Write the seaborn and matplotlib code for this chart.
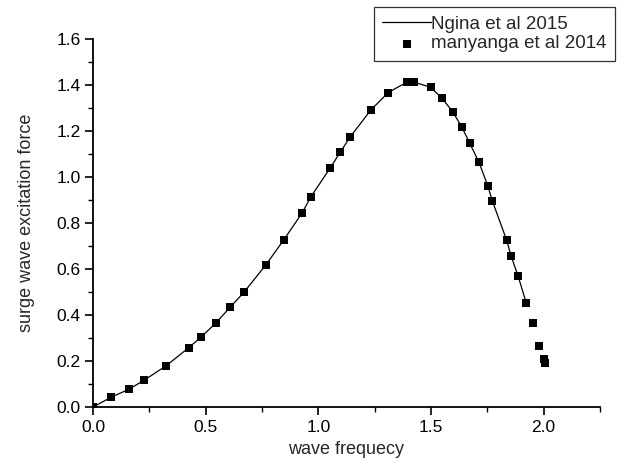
import matplotlib
matplotlib.use("Agg")
import matplotlib.pyplot as plt
import seaborn as sns
import pandas as pd
from matplotlib.ticker import MultipleLocator

# manyanga et al 2014 (markers)
freq_pts = [0.0, 0.08, 0.161, 0.228, 0.323, 0.424, 0.48, 0.545, 0.61, 0.671,
            0.768, 0.847, 0.927, 0.967, 1.052, 1.098, 1.142, 1.233, 1.31,
            1.394, 1.424, 1.498, 1.547, 1.597, 1.637, 1.672, 1.713, 1.752,
            1.773, 1.836, 1.856, 1.887, 1.923, 1.951, 1.981, 2.003, 2.006]
force_pts = [0.0, 0.042, 0.078, 0.117, 0.178, 0.257, 0.304, 0.365, 0.435, 0.50,
             0.619, 0.727, 0.842, 0.914, 1.038, 1.109, 1.175, 1.291, 1.367,
             1.413, 1.413, 1.39, 1.345, 1.283, 1.217, 1.147, 1.064, 0.962,
             0.894, 0.725, 0.655, 0.568, 0.452, 0.364, 0.264, 0.21, 0.193]

# Ngina et al 2015 (line)
freq_line = [0.0, 0.08, 0.161, 0.228, 0.323, 0.424, 0.48, 0.545, 0.61, 0.671,
             0.768, 0.847, 0.927, 0.967, 1.052, 1.098, 1.142, 1.233, 1.31,
             1.394, 1.424, 1.498, 1.547, 1.597, 1.637, 1.672, 1.713, 1.752,
             1.773, 1.836, 1.856, 1.887, 1.923]
force_line = [0.0, 0.042, 0.078, 0.117, 0.178, 0.257, 0.304, 0.365, 0.435, 0.50,
              0.619, 0.727, 0.842, 0.914, 1.038, 1.109, 1.175, 1.291, 1.367,
              1.413, 1.413, 1.39, 1.345, 1.283, 1.217, 1.147, 1.064, 0.962,
              0.894, 0.725, 0.655, 0.568, 0.452]

sns.set_style("ticks")
plt.rcParams['font.family'] = ['Liberation Sans', 'DejaVu Sans']

line_df = pd.DataFrame({'x': freq_line, 'y': force_line})
pts_df = pd.DataFrame({'x': freq_pts, 'y': force_pts})

fig = plt.figure(figsize=(6.24, 4.66), dpi=100)
ax = fig.add_axes([0.149, 0.1266, 0.8125, 0.7897])

sns.lineplot(data=line_df, x='x', y='y', ax=ax, color='black', linewidth=0.9,
             sort=False, estimator=None, label='Ngina et al 2015', legend=False)
sns.scatterplot(data=pts_df, x='x', y='y', ax=ax, color='black', marker='s',
                s=36, linewidth=0, label='manyanga et al 2014', legend=False)

ax.set_xlim(0, 2.25)
ax.set_ylim(0, 1.6)
ax.xaxis.set_major_locator(MultipleLocator(0.5))
ax.xaxis.set_minor_locator(MultipleLocator(0.25))
ax.yaxis.set_major_locator(MultipleLocator(0.2))
ax.yaxis.set_minor_locator(MultipleLocator(0.1))
ax.tick_params(which='major', length=6, width=1.2, labelsize=12.5, pad=3,
               color='black', labelcolor='black')
ax.tick_params(which='minor', length=3.5, width=1.0, color='black')
sns.despine(ax=ax)
for sp in ['left', 'bottom']:
    ax.spines[sp].set_linewidth(1.3)
    ax.spines[sp].set_color('black')

ax.set_xlabel('wave frequecy', fontsize=13, labelpad=5)
ax.set_ylabel('surge wave excitation force', fontsize=13, labelpad=15)

handles, labels = ax.get_legend_handles_labels()
leg = fig.legend(handles, labels, loc='upper right',
                 bbox_to_anchor=(615 / 624, 1 - 7 / 466), fontsize=13.5,
                 frameon=True, fancybox=False, framealpha=1, edgecolor='#333333',
                 borderpad=0.45, handlelength=2.6, handletextpad=0.0,
                 labelspacing=0.15, borderaxespad=0)
leg.get_frame().set_linewidth(0.9)

fig.savefig('out.png', dpi=100)
